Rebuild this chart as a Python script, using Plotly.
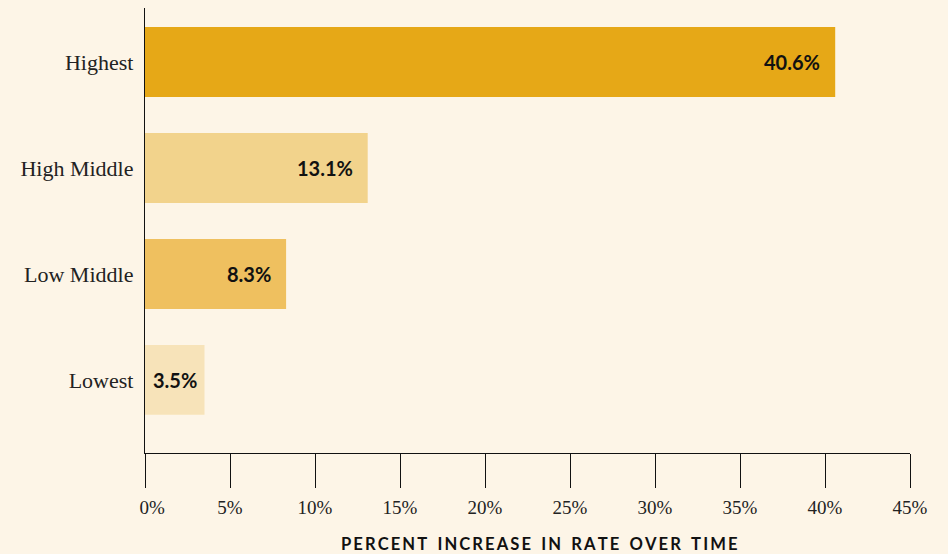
import plotly.graph_objects as go

# Income groups and percent increase in rate over time
groups = ["Lowest", "Low Middle", "High Middle", "Highest"]
values = [3.5, 8.3, 13.1, 40.6]
colors = ["#F7E3B9", "#EFC05F", "#F2D38C", "#E6A817"]
tick_vals = [0, 5, 10, 15, 20, 25, 30, 35, 40, 45]
tick_text = [f"{v}%" for v in tick_vals]
tick_text[0] = "\u00a0\u00a0\u00a0" + tick_text[0]
axis_title = "PERCENT INCREASE IN RATE OVER TIME"

BG = "#FDF5E7"
SERIF = "Liberation Serif, EB Garamond, serif"
SANS = "Lato, DejaVu Sans, sans-serif"

fig = go.Figure()
fig.add_trace(go.Bar(
    x=values,
    y=groups,
    orientation="h",
    marker=dict(color=colors, line=dict(width=0)),
    width=0.66,
    hoverinfo="skip",
))

# value labels inside the bar ends; short bars get the label at their base
for g, v in zip(groups, values):
    short = v < 5
    fig.add_annotation(
        x=0 if short else v, y=g, text=f"<b>{v}%</b>", showarrow=False,
        xanchor="left" if short else "right",
        xshift=6 if short else -13, yshift=0,
        font=dict(family=SANS, size=20, color="#111111"),
    )

# letter-spaced axis title
spaced = "\u2009".join(axis_title).replace("\u2009 \u2009", "\u2009\u00a0\u2009\u2009")
fig.add_annotation(
    x=(539 - 145) / 765, xref="paper", y=0, yref="paper", yshift=-91,
    text="<b>" + spaced + "</b>",
    showarrow=False, xanchor="center", yanchor="middle",
    font=dict(family=SANS, size=16.6, color="#111111"),
)

fig.update_layout(
    width=948, height=554,
    margin=dict(l=145, r=38, t=8, b=101),
    paper_bgcolor=BG, plot_bgcolor=BG,
    showlegend=False,
)
fig.update_xaxes(
    range=[0, 45], tickvals=tick_vals, ticktext=tick_text,
    showgrid=False, zeroline=False,
    showline=True, linecolor="#111111", linewidth=1.3,
    ticks="outside", ticklen=34, tickwidth=1.3, tickcolor="#111111",
    ticklabelstandoff=3,
    tickfont=dict(family=SERIF, size=19, color="#222222"),
)
fig.update_yaxes(
    categoryorder="array", categoryarray=groups,
    range=[-0.69, 3.51],
    showgrid=False, zeroline=False,
    showline=True, linecolor="#111111", linewidth=1.3,
    ticks="", ticklabelstandoff=6,
    tickfont=dict(family=SERIF, size=22, color="#222222"),
)

fig.write_html("out.html")
